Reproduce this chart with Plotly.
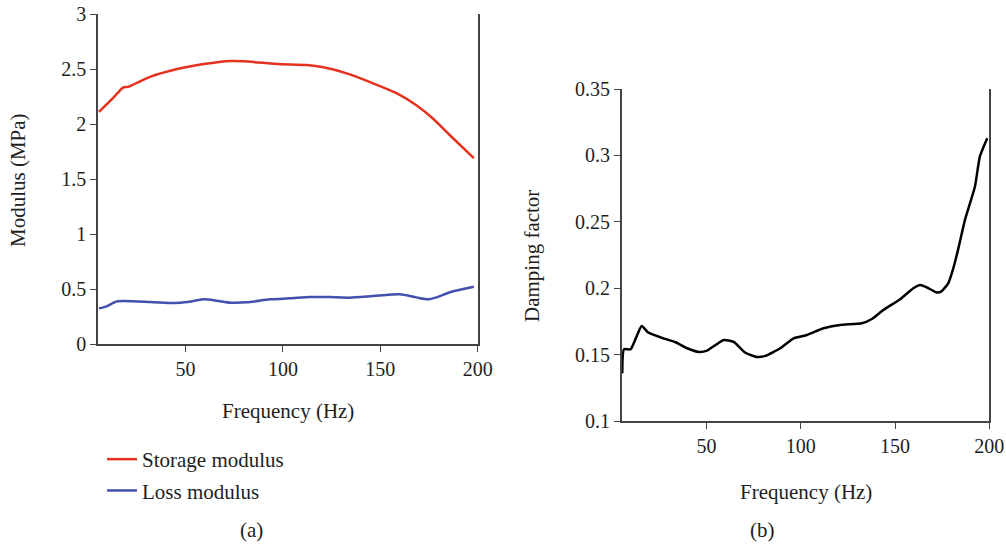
import plotly.graph_objects as go

# Panel (a): storage and loss modulus
freq_storage = [5.5, 12.4, 15, 17.8, 20.9, 32, 45.7, 59.3, 73, 79.8, 96.9, 112.2, 120.8, 132.7, 146.3, 158.3, 168.5, 177, 185.6, 198]
storage_modulus = [2.11, 2.23, 2.28, 2.33, 2.34, 2.43, 2.50, 2.545, 2.573, 2.57, 2.545, 2.536, 2.515, 2.46, 2.37, 2.28, 2.17, 2.05, 1.90, 1.69]

freq_loss = [5.5, 9, 15, 32, 44, 50.8, 59.3, 66, 73, 81.5, 93.4, 103.7, 114, 124, 134.4, 146.3, 160, 168.5, 174.5, 178.8, 186.5, 198]
loss_modulus = [0.324, 0.34, 0.388, 0.382, 0.373, 0.382, 0.406, 0.394, 0.376, 0.379, 0.406, 0.415, 0.427, 0.427, 0.421, 0.436, 0.452, 0.424, 0.406, 0.424, 0.475, 0.521]

# Panel (b): damping factor
freq_damping = [5.3, 6.2, 9.7, 12.4, 15.6, 19.1, 25.6, 33.6, 39.7, 45.9, 50.3, 59.1, 64.4, 70.6, 76.8, 81.2, 89.1, 96.2, 103.3, 112, 120.9, 132.4, 137.7, 143.8, 152.7, 159.7, 163.3, 166.8, 171.7, 174.4, 178.2, 180.9, 183.6, 187.1, 192.4, 195, 198.9]
damping_factor = [0.136, 0.154, 0.154, 0.162, 0.1716, 0.1666, 0.163, 0.1593, 0.1548, 0.152, 0.153, 0.161, 0.1595, 0.1514, 0.1482, 0.149, 0.1548, 0.1623, 0.1648, 0.1698, 0.1723, 0.1736, 0.1768, 0.1836, 0.1917, 0.2, 0.2025, 0.2007, 0.197, 0.1974, 0.2037, 0.215, 0.230, 0.2515, 0.2766, 0.2992, 0.313]

x_ticks = [50, 100, 150, 200]
y_ticks_a = [0, 0.5, 1, 1.5, 2, 2.5, 3]
y_ticks_b = [0.1, 0.15, 0.2, 0.25, 0.3, 0.35]

FONT = "Liberation Serif"
FS_TICK = 20
FS_TITLE = 21
W, H = 1006, 546
axis_col = "#444444"
txt_col = "#1e1e1e"

fig = go.Figure()
fig.add_trace(go.Scatter(x=freq_storage, y=storage_modulus, mode="lines", name="Storage modulus",
                         legendgroup="s",
                         line=dict(color="#e5321f", width=2.5, shape="spline", smoothing=0.6),
                         xaxis="x", yaxis="y"))
fig.add_trace(go.Scatter(x=freq_loss, y=loss_modulus, mode="lines", name="Loss modulus",
                         legendgroup="l",
                         line=dict(color="#4450ae", width=2.5, shape="spline", smoothing=0.6),
                         xaxis="x", yaxis="y"))
fig.add_trace(go.Scatter(x=freq_damping, y=damping_factor, mode="lines", name="Damping factor",
                         line=dict(color="#000000", width=2.5, shape="spline", smoothing=0.5),
                         xaxis="x2", yaxis="y2", showlegend=False))

common_axis = dict(showgrid=False, zeroline=False, showline=True, linecolor=axis_col, linewidth=1.5,
                   ticks="outside", ticklen=6, tickcolor=axis_col, tickwidth=1.2, automargin=False,
                   tickfont=dict(family=FONT, size=FS_TICK, color=txt_col))

fig.update_layout(
    width=W, height=H,
    margin=dict(l=0, r=0, t=0, b=0, pad=0, autoexpand=False),
    paper_bgcolor="white", plot_bgcolor="white",
    font=dict(family=FONT, size=FS_TICK, color=txt_col),
    xaxis=dict(domain=[98 / W, 477.7 / W], range=[5, 200], tickvals=x_ticks, anchor="y", **common_axis),
    yaxis=dict(domain=[1 - 344 / H, 1 - 14 / H], range=[0, 3], tickvals=y_ticks_a,
               ticktext=[("%g" % v) for v in y_ticks_a], anchor="x", mirror=True, **common_axis),
    xaxis2=dict(domain=[621.7 / W, 989.3 / W], range=[5, 200], tickvals=x_ticks, anchor="y2", **common_axis),
    yaxis2=dict(domain=[1 - 421 / H, 1 - 89 / H], range=[0.1, 0.35], tickvals=y_ticks_b,
                ticktext=[("%g" % v) for v in y_ticks_b], anchor="x2", mirror=True, **common_axis),
    legend=dict(x=102 / W, y=1 - 439 / H, xanchor="left", yanchor="top", bgcolor="rgba(0,0,0,0)",
                font=dict(family=FONT, size=FS_TITLE, color=txt_col), tracegroupgap=1,
                traceorder="grouped"),
    showlegend=True,
)

annotations = [
    dict(text="Modulus (MPa)", x=18 / W, y=1 - 180 / H, textangle=-90),
    dict(text="Damping factor", x=532 / W, y=1 - 256 / H, textangle=-90),
    dict(text="Frequency (Hz)", x=288 / W, y=1 - 411 / H),
    dict(text="Frequency (Hz)", x=806 / W, y=1 - 492 / H),
    dict(text="(a)", x=252 / W, y=1 - 530 / H),
    dict(text="(b)", x=762 / W, y=1 - 530 / H),
]
for a in annotations:
    fig.add_annotation(xref="paper", yref="paper", showarrow=False, xanchor="center", yanchor="middle",
                       font=dict(family=FONT, size=FS_TITLE, color=txt_col), **a)

fig.write_html("out.html")
with open("out.html", "r", encoding="utf-8") as f:
    html = f.read()
html = html.replace("<head>", "<head><style>html,body{margin:0;padding:0;overflow:hidden;}</style>", 1)
with open("out.html", "w", encoding="utf-8") as f:
    f.write(html)
